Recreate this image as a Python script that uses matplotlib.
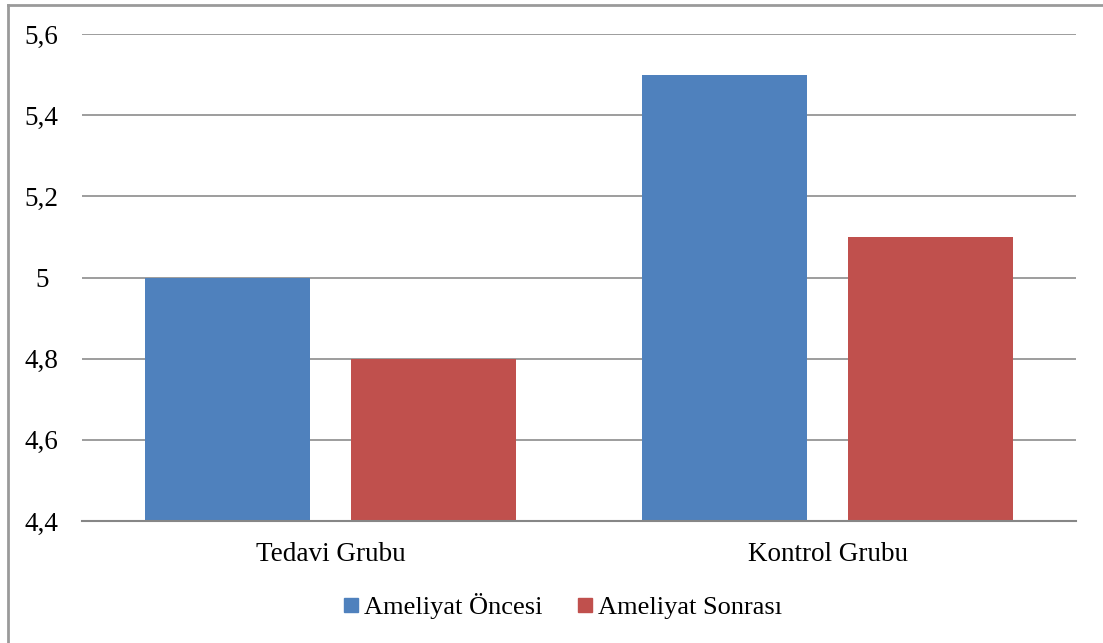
import matplotlib
matplotlib.use("Agg")
import matplotlib.pyplot as plt
import numpy as np
from matplotlib.lines import Line2D
from matplotlib.ticker import FuncFormatter

categories = ["Tedavi Grubu", "Kontrol Grubu"]
series_names = ["Ameliyat Öncesi", "Ameliyat Sonrası"]
oncesi = [5.0, 5.5]
sonrasi = [4.8, 5.1]
yticks = [4.4, 4.6, 4.8, 5.0, 5.2, 5.4, 5.6]

BLUE = "#4F81BD"
RED = "#C0504D"

plt.rcParams["font.family"] = ["Liberation Serif", "DejaVu Serif"]

fig = plt.figure(figsize=(11.03, 6.43), dpi=100)
ax = fig.add_axes([82 / 1103, 1 - 521 / 643, (1076 - 82) / 1103, (521 - 34) / 643])

x = np.arange(len(categories))
w = 0.332
off = 0.208
ax.bar(x - off, np.array(oncesi) - 4.4, w, bottom=4.4, color=BLUE, zorder=3)
ax.bar(x + off, np.array(sonrasi) - 4.4, w, bottom=4.4, color=RED, zorder=3)

ax.set_xlim(-0.5, 1.5)
ax.set_ylim(4.4, 5.6)
ax.set_yticks(yticks)
ax.yaxis.set_major_formatter(FuncFormatter(lambda v, p: f"{v:g}".replace(".", ",")))
ax.set_xticks(x)
ax.set_xticklabels(categories)
ax.grid(axis="y", color="#8c8c8c", lw=1.2, zorder=1)
for s in ["top", "right", "left"]:
    ax.spines[s].set_visible(False)
ax.spines["bottom"].set_color("#868686")
ax.spines["bottom"].set_linewidth(1.5)
ax.spines["bottom"].set_zorder(4)
ax.tick_params(axis="both", length=0, labelsize=19.5, colors="black")
ax.tick_params(axis="y", pad=29)
ax.tick_params(axis="x", pad=15)
for lbl in ax.get_yticklabels():
    lbl.set_horizontalalignment("center")

handles = [Line2D([], [], marker="s", ls="", color=c, markersize=9.5) for c in (BLUE, RED)]
fig.legend(handles, series_names, loc="center", bbox_to_anchor=(561 / 1103, 1 - 606 / 643),
           ncol=2, frameon=False, fontsize=19, handletextpad=0.1, columnspacing=1.2,
           handlelength=0.8)

# chart frame (cropped: only top and left edges visible)
fig.add_artist(Line2D([8 / 1103, 1], [1 - 5 / 643] * 2, color="#9a9a9a", lw=2))
fig.add_artist(Line2D([8 / 1103] * 2, [0, 1 - 5 / 643], color="#9a9a9a", lw=2))

fig.savefig("out.png", dpi=100)
